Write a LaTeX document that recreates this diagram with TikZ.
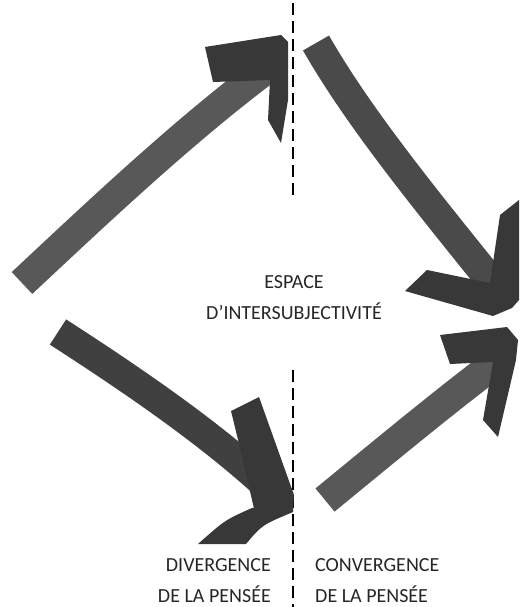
\documentclass[tikz,border=0pt]{standalone}
\usepackage{fontspec}
\setmainfont{Carlito}
\usepackage{xcolor}
\usetikzlibrary{positioning}

\definecolor{shaftlight}{HTML}{585858}
\definecolor{shaftdark}{HTML}{404040}
\definecolor{headgray}{HTML}{383838}
\definecolor{labelgray}{HTML}{262626}

\begin{document}
\begin{tikzpicture}[x=1pt, y=-1pt,
  brush/.style={line width=30pt, line cap=butt, draw=shaftlight},
  brushhead/.style={fill=headgray},
  separator/.style={line width=1.8pt, dash pattern=on 12pt off 6pt},
  caption/.style={inner sep=0pt, text=labelgray, font=\fontsize{20}{31}\selectfont}
]
  \useasboundingbox (0,0) rectangle (519,607);

  % Dashed separator
  \coordinate (sepTop) at (293,3);
  \coordinate (sepGap) at (293,200);
  \coordinate (sepLow) at (293,370);
  \coordinate (sepBot) at (293,607);
  \draw[separator] (sepTop) -- (sepGap);
  \draw[separator] (sepLow) -- (sepBot);

  % Upper-left arrow (pointing up right)
  \coordinate (ulTail) at (22,283);
  \coordinate (ulHead) at (276,62);
  \draw[brush] (ulTail) .. controls (100,210) and (190,125) .. (ulHead);
  \fill[brushhead] (205,47) -- (281,35) -- (288,42) -- (288,100) -- (281,143)
    -- (268,120) -- (270,80) -- (213,82) -- cycle;

  % Upper-right arrow (pointing down right)
  \coordinate (urTail) at (316,43);
  \coordinate (urHead) at (500,292);
  \draw[brush, draw=shaftdark!60!shaftlight] (urTail) .. controls (360,120) and (430,205) .. (urHead);
  \fill[brushhead] (405,291) -- (427,270) -- (490,283) -- (500,215) -- (519,200)
    -- (519,300) -- (512,308) -- (493,316) -- cycle;

  % Lower-left arrow (divergence)
  \coordinate (llTail) at (58,332);
  \coordinate (llHead) at (282,500);
  \draw[brush, draw=shaftdark] (llTail) .. controls (140,385) and (220,440) .. (llHead);
  \fill[brushhead] (231,411) -- (259,397) -- (294,495) -- (293,508) -- (255,513)
    -- (241,452) -- cycle;
  \fill[brushhead] (293,503) -- (252,508) .. controls (225,520) .. (198,544)
    -- (246,544) .. controls (262,525) .. (293,512) -- cycle;

  % Lower-right arrow (convergence)
  \coordinate (lrTail) at (325,500);
  \coordinate (lrHead) at (497,362);
  \draw[brush] (lrTail) .. controls (380,455) and (440,405) .. (lrHead);
  \fill[brushhead] (440,335) -- (507,327) -- (518,340) -- (516,360) -- (498,437)
    -- (483,420) -- (493,362) -- (450,364) -- cycle;

  % Labels
  \node[caption, align=center, anchor=north] (espace) at (294,275)
    {ESPACE\\D’INTERSUBJECTIVITÉ};
  \node[caption, align=right, anchor=north east] (divergence) at (271,558)
    {DIVERGENCE\\DE LA PENSÉE};
  \node[caption, align=left, anchor=north west] (convergence) at (315,558)
    {CONVERGENCE\\DE LA PENSÉE};
\end{tikzpicture}
\end{document}
